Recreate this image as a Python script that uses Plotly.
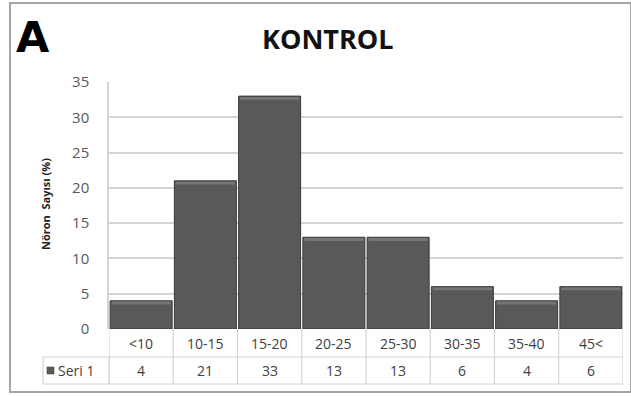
import plotly.graph_objects as go

# Histogram data: neuron share (%) per size class
categories = ["<10", "10-15", "15-20", "20-25", "25-30", "30-35", "35-40", "45<"]
values = [4, 21, 33, 13, 13, 6, 4, 6]
series_name = "Seri 1"
y_ticks = [0, 5, 10, 15, 20, 25, 30, 35]

W, H = 631, 396
L, R, T, B = 109, 8, 82, 67
PW, PH = W - L - R, H - T - B


def px_x(px):
    return (px - L) / PW


def px_y(py):
    return (H - B - py) / PH


n = len(categories)
xs = list(range(n))
fig = go.Figure()
fig.add_trace(go.Bar(
    x=xs, y=values, name=series_name,
    marker=dict(color="#595959", line=dict(color="#3a3a3a", width=1)),
    width=0.965,
))
# bevel highlight along the top of each bar
hl = 0.4
fig.add_trace(go.Bar(
    x=xs, y=[hl] * n, base=[v - hl - 0.12 for v in values],
    marker=dict(color="#767676", line=dict(width=0)),
    width=0.92, hoverinfo="skip",
))

shapes = []
annots = []
grid_col = "#d4d4d4"
txt_font = dict(family="Open Sans", size=14, color="#404040")

# data table under the plot: category row and value row
row1_top, row1_bot, row2_bot = 329, 357, 384
for yy in (row1_bot, row2_bot):
    shapes.append(dict(type="line", xref="x", yref="paper", x0=-0.5, x1=n - 0.5,
                       y0=px_y(yy), y1=px_y(yy), line=dict(color=grid_col, width=1.2)))
for i in range(n + 1):
    shapes.append(dict(type="line", xref="x", yref="paper", x0=i - 0.5, x1=i - 0.5,
                       y0=px_y(row1_top), y1=px_y(row2_bot), line=dict(color=grid_col, width=1.2)))
# left header cell for the series
shapes.append(dict(type="rect", xref="paper", yref="paper", x0=px_x(43), x1=px_x(109),
                   y0=px_y(row2_bot), y1=px_y(row1_bot), line=dict(color=grid_col, width=1.2)))
# legend key in the header cell
shapes.append(dict(type="rect", xref="paper", yref="paper", x0=px_x(47), x1=px_x(54),
                   y0=px_y(374), y1=px_y(367), fillcolor="#595959", line=dict(color="#3a3a3a", width=0.5)))
annots.append(dict(xref="paper", yref="paper", x=px_x(56), y=px_y(370.5), text=series_name,
                   showarrow=False, xanchor="left", yanchor="middle", font=txt_font))
for i, (c, v) in enumerate(zip(categories, values)):
    annots.append(dict(xref="x", yref="paper", x=i, y=px_y(343), text=c, showarrow=False,
                       yanchor="middle", font=txt_font))
    annots.append(dict(xref="x", yref="paper", x=i, y=px_y(370.5), text=str(v), showarrow=False,
                       yanchor="middle", font=txt_font))

# outer chart frame
shapes.append(dict(type="rect", xref="paper", yref="paper", x0=px_x(10), x1=px_x(631),
                   y0=px_y(392), y1=px_y(3), line=dict(color="#a6a6a6", width=2), layer="below"))

# panel letter, title, y-axis title
annots.append(dict(xref="paper", yref="paper", x=px_x(14), y=px_y(37), text="<b>A</b>",
                   showarrow=False, xanchor="left", yanchor="middle",
                   font=dict(family="DejaVu Sans", size=43, color="#000000")))
annots.append(dict(xref="paper", yref="paper", x=px_x(328), y=px_y(38), text="<b>KONTROL</b>",
                   showarrow=False, xanchor="center", yanchor="middle",
                   font=dict(family="Open Sans", size=27, color="#111111")))
annots.append(dict(xref="paper", yref="paper", x=px_x(45), y=px_y(204), text="<b>Nöron  Sayısı (%)</b>",
                   showarrow=False, textangle=-90, xanchor="center", yanchor="middle",
                   font=dict(family="Open Sans", size=11, color="#222222")))

fig.update_layout(
    width=W, height=H, margin=dict(l=L, r=R, t=T, b=B),
    paper_bgcolor="white", plot_bgcolor="white",
    showlegend=False, bargap=0.03, barmode="overlay",
    shapes=shapes, annotations=annots,
    xaxis=dict(range=[-0.5, n - 0.5], showticklabels=False, showgrid=False, zeroline=False,
               showline=False, ticks="", fixedrange=True),
    yaxis=dict(range=[0, 35], tickvals=y_ticks, showgrid=True, gridcolor=grid_col, gridwidth=2,
               zeroline=False, showline=True, linecolor=grid_col, linewidth=1.5, ticks="",
               ticklabelstandoff=15,
               tickfont=dict(family="Open Sans", size=15, color="#595959")),
)

fig.write_html("out.html")
